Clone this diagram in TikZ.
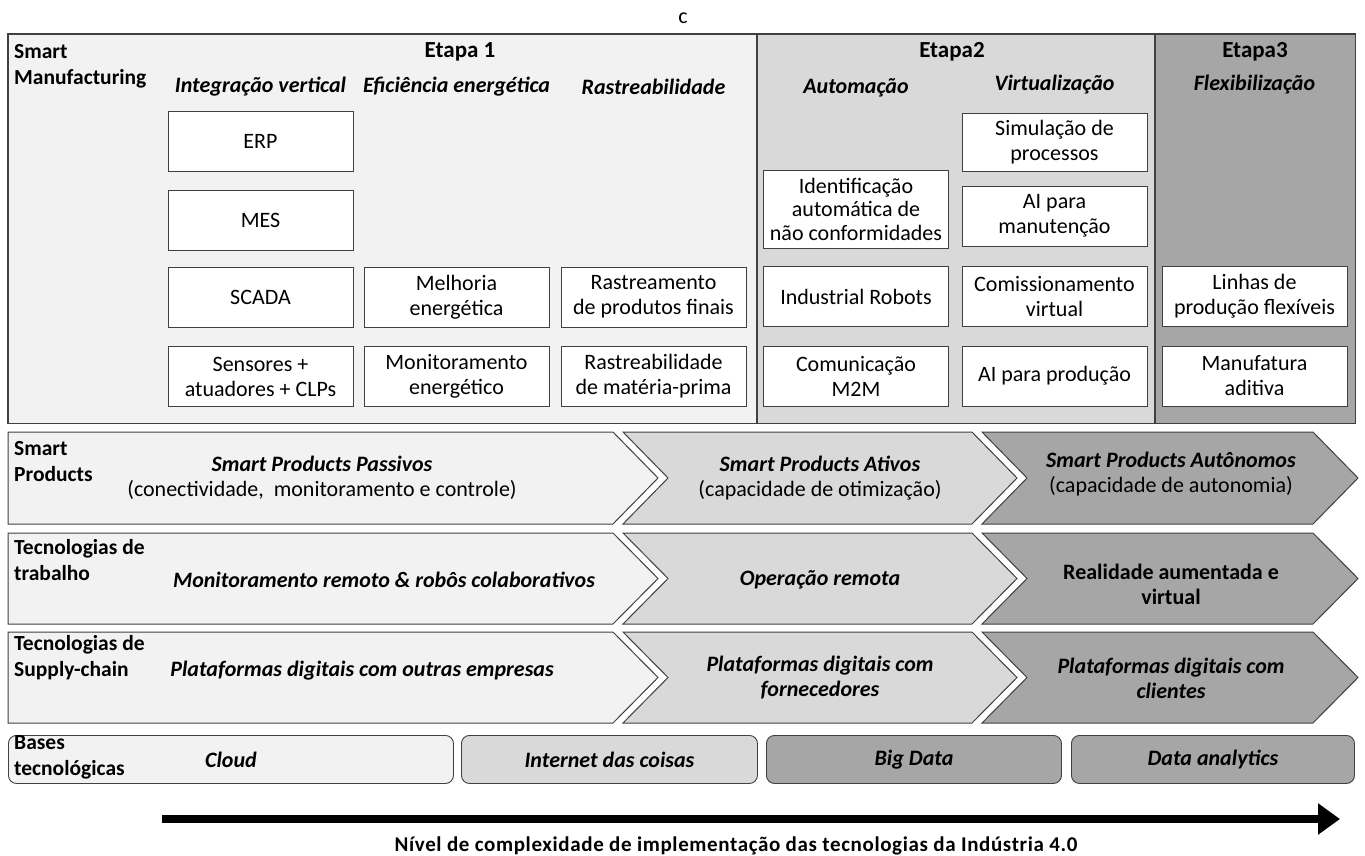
\documentclass[tikz,border=0pt]{standalone}
\usepackage{fontspec}
\setmainfont{Carlito}
\usetikzlibrary{arrows.meta}
\definecolor{claro}{HTML}{F2F2F2}
\definecolor{medio}{HTML}{D9D9D9}
\definecolor{escuro}{HTML}{A6A6A6}
\definecolor{linha}{HTML}{404040}
\tikzset{
	diagrama/.style={x=1pt, y=-1pt, font=\fontsize{22}{25}\selectfont},
	regiao/.style={anchor=north west, inner sep=0pt, minimum height=389pt},
	caixa/.style={draw=linha, line width=0.9pt, fill=white, align=center, inner sep=0pt,
	              minimum width=185pt, minimum height=60pt},
	etapa/.style={font=\fontsize{23}{26}\selectfont\bfseries},
	coluna/.style={font=\fontsize{22}{25}\selectfont\bfseries\itshape},
	rotulo/.style={font=\fontsize{21.5}{26}\selectfont\bfseries, align=left, anchor=west, inner sep=0pt},
	faixa/.style={draw=linha, line width=1pt},
	texto/.style={align=center, inner sep=0pt},
	destaque/.style={font=\fontsize{22}{25}\selectfont\bfseries\itshape, align=center, inner sep=0pt},
	base/.style={draw=linha, line width=0.9pt, rounded corners=8pt, anchor=north west, inner sep=0pt,
	             minimum height=48pt, font=\fontsize{22}{25}\selectfont\bfseries\itshape},
	seta/.style={line width=8pt, -{Triangle[length=22pt,width=30pt]}},
}

\begin{document}
\begin{tikzpicture}[diagrama]
\useasboundingbox (0,0) rectangle (1365,856);

\node (topo) at (683,18) {c};

% ---------- smart manufacturing ----------
\node[regiao, fill=claro, minimum width=749pt] (e1) at (8,34) {};
\node[regiao, fill=medio, minimum width=398pt] (e2) at (757,34) {};
\node[regiao, fill=escuro, minimum width=200pt] (e3) at (1155,34) {};
\draw[linha, line width=1.2pt] (e1.north west) rectangle (e3.south east);
\draw[linha, line width=1.2pt] (e2.north west) -- (e2.south west);
\draw[linha, line width=1.2pt] (e3.north west) -- (e3.south west);

\node[rotulo] (lsm) at (14,66) {Smart\\Manufacturing};
\node[etapa] (t1) at (460,52) {Etapa 1};
\node[etapa] (t2) at (952,52) {Etapa2};
\node[etapa] (t3) at (1255,52) {Etapa3};

\node[coluna] (h1) at (260.5,87) {Integração vertical};
\node[coluna] (h2) at (456.5,87) {Eficiência energética};
\node[coluna] (h3) at (653.5,87) {Rastreabilidade};
\node[coluna] (h4) at (856,88) {Automação};
\node[coluna] (h5) at (1054.5,85) {Virtualização};
\node[coluna] (h6) at (1254.5,85) {Flexibilização};

\node[caixa] (erp) at (260.5,141.5) {ERP};
\node[caixa] (mes) at (260.5,220.5) {MES};
\node[caixa] (scada) at (260.5,297) {SCADA};
\node[caixa] (sens) at (260.5,376.5) {Sensores +\\atuadores + CLPs};
\node[caixa] (melh) at (456.5,297) {Melhoria\\energética};
\node[caixa] (moni) at (456.5,376.5) {Monitoramento\\energético};
\node[caixa] (rast) at (653.5,297) {Rastreamento\\de produtos finais};
\node[caixa] (rastm) at (653.5,376.5) {Rastreabilidade\\de matéria-prima};

\node[caixa, minimum height=78pt, font=\fontsize{22}{23.5}\selectfont] (ident) at (856,209)
    {Identificação\\automática de\\não conformidades};
\node[caixa] (robo) at (856,296.5) {Industrial Robots};
\node[caixa] (m2m) at (856,376) {Comunicação\\M2M};
\node[caixa, minimum height=58pt] (simu) at (1054.5,142) {Simulação de\\processos};
\node[caixa] (aiman) at (1054.5,216) {AI para\\manutenção};
\node[caixa] (comis) at (1054.5,296.5) {Comissionamento\\virtual};
\node[caixa] (aiprod) at (1054.5,376) {AI para produção};
\node[caixa] (linhas) at (1254.5,296.5) {Linhas de\\produção flexíveis};
\node[caixa] (adit) at (1254.5,376) {Manufatura\\aditiva};

% ---------- faixas ----------
\foreach \t/\b in {432/524, 533/624, 632/723} {
	\pgfmathsetmacro\m{(\t+\b)/2}
	\draw[faixa, fill=claro] (8,\t) -- (613,\t) -- (658,\m) -- (613,\b) -- (8,\b) -- cycle;
	\draw[faixa, fill=medio] (623,\t) -- (972,\t) -- (1017,\m) -- (972,\b) -- (623,\b) -- (668,\m) -- cycle;
	\draw[faixa, fill=escuro] (982,\t) -- (1313,\t) -- (1358,\m) -- (1313,\b) -- (982,\b) -- (1027,\m) -- cycle;
}

\node[rotulo] (lsp) at (14,462) {Smart\\Products};
\node[texto] (sp1) at (322,478) {\textbf{\textit{Smart Products Passivos}}\\(conectividade,\ \ monitoramento e controle)};
\node[texto] (sp2) at (820,478) {\textbf{\textit{Smart Products Ativos}}\\(capacidade de otimização)};
\node[texto] (sp3) at (1171,474) {\textbf{\textit{Smart Products Autônomos}}\\(capacidade de autonomia)};

\node[rotulo] (ltt) at (14,560) {Tecnologias de\\trabalho};
\node[destaque] (tt1) at (384,580) {Monitoramento remoto \& robôs colaborativos};
\node[destaque] (tt2) at (820,580) {Operação remota};
\node[texto, font=\fontsize{22}{25}\selectfont\bfseries] (tt3) at (1171,584) {Realidade aumentada e\\virtual};

\node[rotulo] (lsc) at (14,658) {Tecnologias de\\Supply-chain};
\node[destaque] (sc1) at (362,671) {Plataformas digitais com outras empresas};
\node[destaque] (sc2) at (820,678) {Plataformas digitais com\\fornecedores};
\node[destaque] (sc3) at (1171,678) {Plataformas digitais com\\clientes};

% ---------- bases tecnologicas ----------
\node[base, fill=claro, minimum width=445pt] (cloud) at (8,735) {Cloud};
\node[base, fill=medio, minimum width=296pt] (iot) at (461,735) {Internet das coisas};
\node[base, fill=escuro, minimum width=295pt] (bigd) at (766,735) {Big Data};
\node[base, fill=escuro, minimum width=283pt] (dana) at (1071,735) {Data analytics};
\node[rotulo] (lbt) at (14,757) {Bases\\tecnológicas};

% ---------- complexidade ----------
\coordinate (inicio) at (162,819);
\coordinate (fim) at (1340,819);
\draw[seta] (inicio) -- (fim);
\node[font=\fontsize{21}{25}\selectfont\bfseries\addfontfeatures{LetterSpace=3}] (legenda) at (736,846)
    {Nível de complexidade de implementação das tecnologias da Indústria 4.0};

\end{tikzpicture}
\end{document}
